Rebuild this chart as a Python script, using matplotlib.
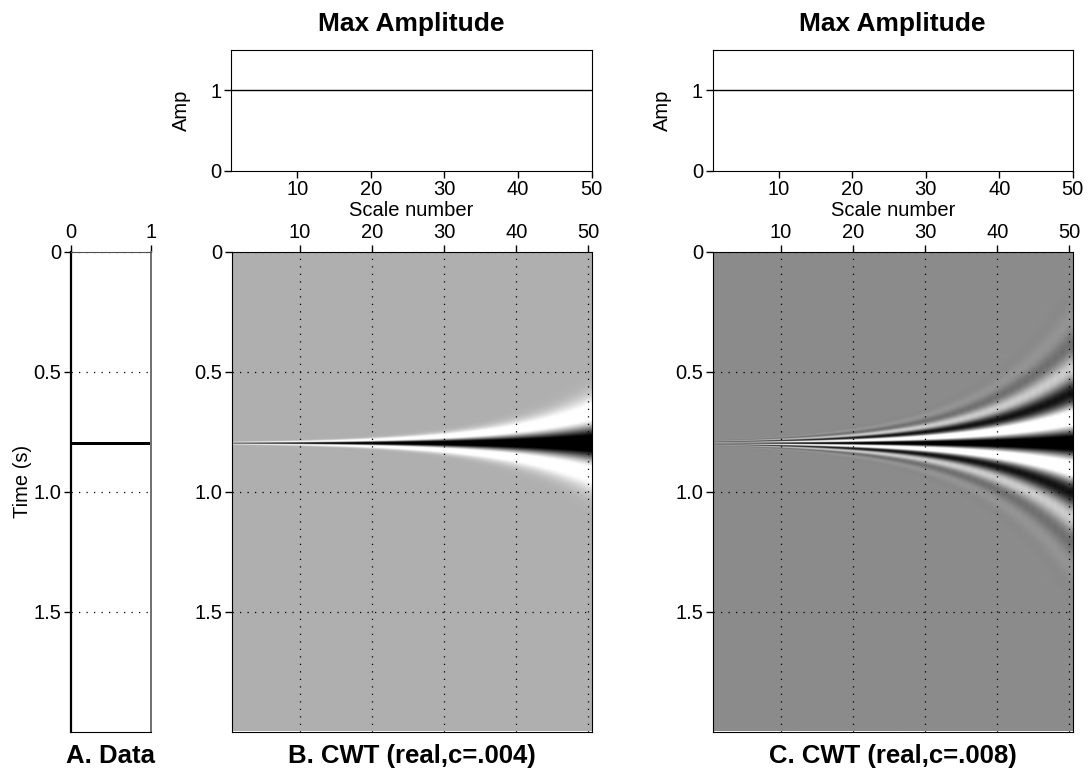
import numpy as np
import matplotlib.pyplot as plt

plt.rcParams['font.family'] = ['Liberation Sans', 'DejaVu Sans']

# input trace: a single spike
dt = 0.001
nt = 2000
spike_time = 0.8
spike_amp = 1.0

scales = np.arange(1, 51)
scale_ticks = [10, 20, 30, 40, 50]
time_ticks = [0, 0.5, 1.0, 1.5]
time_labels = ['0', '0.5', '1.0', '1.5']

# wavelet widths at scale 50 (s) and growth per 10 scales
width50 = {'B': 0.072, 'C': 0.21}
growth10 = 2.1
clip = {'B': (-0.33, 0.72), 'C': (-0.58, 0.70)}
titles = ['A. Data', 'B. CWT (real,c=.004)', 'C. CWT (real,c=.008)']

t = np.arange(nt) * dt
trace = np.zeros(nt)
trace[int(round(spike_time / dt))] = spike_amp

tk = np.arange(-999, 1000) * dt


def wavelet(kind, s):
    if kind == 'B':
        x = tk / s
        return (1 - x**2) * np.exp(-x**2 / 2)
    f = 1.0 / s
    return np.cos(2 * np.pi * f * tk) * np.exp(-(tk * f)**2 / 2)


def cwt(kind):
    img = np.zeros((nt, len(scales)))
    for j, k in enumerate(scales):
        s = width50[kind] * growth10 ** ((k - 50) / 10)
        img[:, j] = np.convolve(trace, wavelet(kind, s), mode='same')
    return img


W, H = 1090, 776


def box(x0, x1, y0, y1):
    return [x0 / W, 1 - y1 / H, (x1 - x0) / W, (y1 - y0) / H]


fig = plt.figure(figsize=(10.9, 7.76), dpi=100)
fs = 14.5
dots = (0, (1, 5))

# A. data panel
ax = fig.add_axes(box(70.7, 150.7, 251.5, 731.5))
ax.plot(trace, t, color='k', lw=1.6)
ax.set_xlim(0, 1)
ax.set_ylim(nt * dt, 0)
ax.set_xticks([0, 1])
ax.set_yticks(time_ticks)
ax.set_yticklabels(time_labels)
ax.xaxis.tick_top()
ax.tick_params(direction='out', length=5, width=1, labelsize=fs, pad=2)
ax.grid(axis='y', linestyle=dots, color='k', lw=0.9)
ax.spines['left'].set_linewidth(1.6)
ax.spines['right'].set_color('#707070')
ax.spines['right'].set_linewidth(1.4)
ax.spines['top'].set_color('#505050')
ax.set_ylabel('Time (s)', fontsize=fs)
ax.yaxis.set_label_coords(-0.49, 0.52)

# B, C panels
for kind, (xa, xb) in zip(['B', 'C'], [(231.7, 591.7), (712.7, 1072.7)]):
    img = cwt(kind)
    ax = fig.add_axes(box(xa, xb, 251.5, 731.5))
    vmin, vmax = clip[kind]
    ax.imshow(img, aspect='auto', cmap='gray_r', vmin=vmin, vmax=vmax,
              extent=(0.5, 50.5, nt * dt, 0), interpolation='bilinear')
    ax.set_xlim(0.55, 50.45)
    ax.set_ylim(nt * dt, 0)
    ax.set_xticks(scale_ticks)
    ax.set_yticks(time_ticks)
    ax.set_yticklabels(time_labels)
    ax.xaxis.tick_top()
    ax.tick_params(direction='out', length=5, width=1, labelsize=fs, pad=2)
    ax.grid(linestyle=dots, color='k', lw=0.9)

    # max amplitude above
    axt = fig.add_axes(box(xa - 0.7 if kind == 'B' else xa, xb, 50, 170.7))
    max_amp = np.abs(img).max(axis=0)
    axt.plot(scales, max_amp, color='k', lw=1)
    axt.set_xlim(1, 50)
    axt.set_ylim(0, 1.5)
    axt.set_xticks(scale_ticks)
    axt.set_yticks([0, 1])
    axt.tick_params(direction='out', length=5, width=1, labelsize=fs, pad=2)
    axt.set_xlabel('Scale number', fontsize=fs, labelpad=1)
    axt.set_ylabel('Amp', fontsize=fs, labelpad=14)
    axt.set_title('Max Amplitude', fontsize=19, fontweight='bold', pad=14)

for x, s in zip([110.7, 411.7, 892.7], titles):
    fig.text(x / W, 1 - 756 / H, s, ha='center', va='center',
             fontsize=18.5, fontweight='bold')

plt.savefig('out.png', dpi=100)
